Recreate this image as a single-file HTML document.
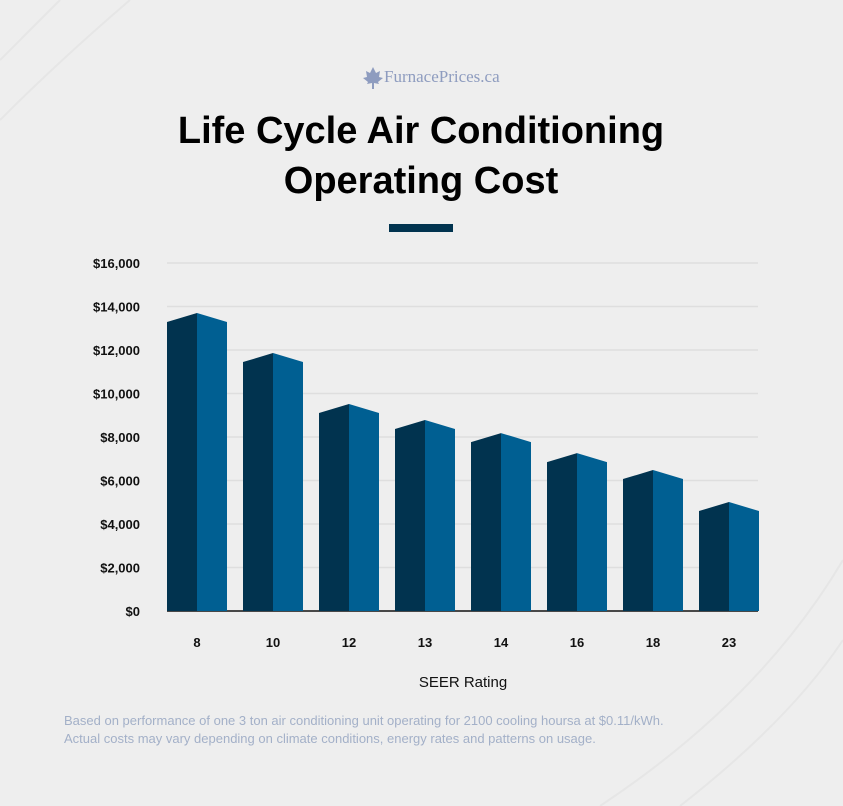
<!DOCTYPE html>
<html><head><meta charset="utf-8"><style>
body{margin:0;width:843px;height:806px;background:#eeeeee;font-family:"Liberation Sans",sans-serif;overflow:hidden;position:relative}
.t{position:absolute;white-space:nowrap}
</style></head><body>
<svg width="843" height="806" style="position:absolute;left:0;top:0">
<path d="M600,806 Q760,700 843,560 M680,806 Q790,720 843,640 M0,120 Q60,60 130,0 M0,60 Q30,30 60,0" stroke="#e6e6e6" stroke-width="2" fill="none"/>
<g>
<path d="M373,67 l3,6 l4,-2 l-1,6 l4,1 l-5,4 l1,2 l-5,-1 v6 h-2 v-6 l-5,1 l1,-2 l-5,-4 l4,-1 l-1,-6 l4,2z" fill="#8e9cbf"/>
<text x="384" y="82" font-family="Liberation Serif,serif" font-size="17" fill="#8e9cbf">FurnacePrices.ca</text>
</g>
<text x="421" y="143" text-anchor="middle" font-size="38" font-weight="bold" fill="#000">Life Cycle Air Conditioning</text>
<text x="421" y="193" text-anchor="middle" font-size="38" font-weight="bold" fill="#000">Operating Cost</text>
<rect x="389" y="224" width="64" height="8" fill="#01334f"/>
<g id="grid"></g><g id="bars"></g><g id="labels"></g>
<text x="463" y="687" text-anchor="middle" font-size="15" fill="#111">SEER Rating</text>
<text x="64" y="725" font-size="13" fill="#a3b0c8">Based on performance of one 3 ton air conditioning unit operating for 2100 cooling hoursa at $0.11/kWh.</text>
<text x="64" y="743" font-size="13" fill="#a3b0c8">Actual costs may vary depending on climate conditions, energy rates and patterns on usage.</text>
</svg>
<script>
const categories=["8","10","12","13","14","16","18","23"];
const values=[13700,11860,9520,8780,8180,7260,6480,5010];
const ticks=[0,2000,4000,6000,8000,10000,12000,14000,16000];
const ns="http://www.w3.org/2000/svg";
const y0=611,yTop=263,vMax=16000;
function yS(v){return y0-(v/vMax)*(y0-yTop);}
function xS(i){return 197+i*76.0;}
function mk(t,a,p){const e=document.createElementNS(ns,t);for(const k in a)e.setAttribute(k,a[k]);p.appendChild(e);return e;}
const grid=document.getElementById('grid'),bars=document.getElementById('bars'),labels=document.getElementById('labels');
ticks.forEach(t=>{
 const l=mk('line',{x1:167,x2:758,y1:yS(t),y2:yS(t),stroke:t===0?'#111':'#dedede','stroke-width':t===0?1.5:1.5},grid);
 
 
 const tx=mk('text',{x:140,y:yS(t)+5,'text-anchor':'end','font-size':13,'font-weight':'bold',fill:'#111'},labels);
 tx.textContent='$'+t.toLocaleString('en-US');
 
 
});
categories.forEach((c,i)=>{
 const cx=xS(i),pk=yS(values[i]),sd=pk+9;
 const a=mk('polygon',{points:`${cx-30},${y0} ${cx-30},${sd} ${cx},${pk} ${cx},${y0}`,fill:'#01334f'},bars);
 
 
 const b=mk('polygon',{points:`${cx},${y0} ${cx},${pk} ${cx+30},${sd} ${cx+30},${y0}`,fill:'#005f92'},bars);
 
 
 const tx=mk('text',{x:cx,y:647,'text-anchor':'middle','font-size':13,'font-weight':'bold',fill:'#111'},labels);
 tx.textContent=c;
 
 
});
</script>
</body></html>
